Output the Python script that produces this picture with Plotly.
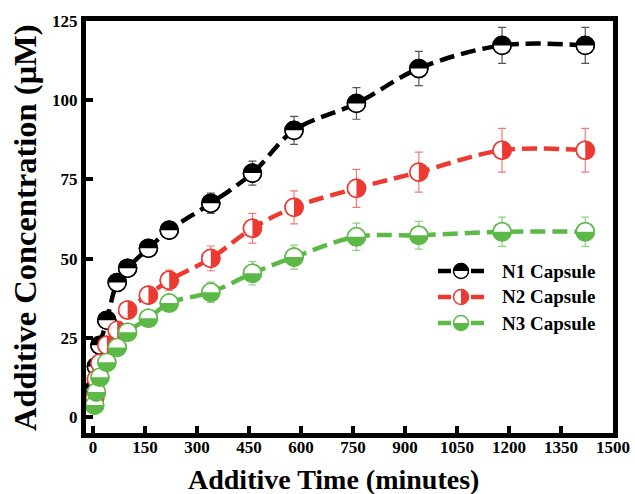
import plotly.graph_objects as go

# ---------------- data ----------------
time_min = [5, 10, 20, 40, 70, 100, 160, 220, 340, 460, 580, 760, 940, 1180, 1420]
n1_conc = [9, 16, 22.7, 30.6, 42.5, 47, 53.3, 59, 67.5, 77, 90.5, 99, 110, 117.3, 117.3]
n1_err = [1.5, 1.5, 1.5, 1.5, 1.5, 1.5, 1.8, 2.0, 3.2, 3.8, 4.4, 5.0, 5.4, 5.7, 5.7]
n2_conc = [6, 12, 17, 22.7, 27.4, 33.8, 38.5, 43.2, 50.1, 59.6, 66.2, 72.2, 77.3, 84.2, 84.2]
n2_err = [2, 2, 2, 2, 2, 2.2, 2.6, 3.2, 3.9, 4.7, 5.2, 6.0, 6.3, 6.9, 6.9]
n3_conc = [3.8, 7.9, 12.6, 17.3, 22, 26.8, 31.2, 36, 39.4, 45.4, 50.5, 56.9, 57.4, 58.5, 58.5]
n3_err = [1.5, 1.5, 1.5, 1.5, 1.5, 1.8, 2.0, 2.4, 3.2, 3.7, 3.8, 4.3, 4.4, 4.6, 4.6]
series_names = ["N1 Capsule", "N2 Capsule", "N3 Capsule"]
x_ticks = [0, 150, 300, 450, 600, 750, 900, 1050, 1200, 1350, 1500]
y_ticks = [0, 25, 50, 75, 100, 125]

# ---------------- style ----------------
W, H = 635, 494
ML, MR, MT, MB = 86, 22, 21, 61
FONT = "Liberation Serif"
colors = ["#000000", "#ec3a32", "#5cb947"]
err_colors = ["#555555", "#f07c78", "#8ccf7c"]
halves = ["top", "right", "bottom"]
R = 9
K = 0.5523


def half_path(r, side):
    k = K * r
    if side == "top":
        return (f"M{-r},0 C{-r},{k} {-k},{r} 0,{r} C{k},{r} {r},{k} {r},0 Z")
    if side == "bottom":
        return (f"M{-r},0 C{-r},{-k} {-k},{-r} 0,{-r} C{k},{-r} {r},{-k} {r},0 Z")
    return (f"M0,{r} C{k},{r} {r},{k} {r},0 C{r},{-k} {k},{-r} 0,{-r} Z")


fig = go.Figure()
shapes = []
series = [n1_conc, n2_conc, n3_conc]
errs = [n1_err, n2_err, n3_err]

for name, ys, es, col, ecol, side in zip(series_names, series, errs, colors, err_colors, halves):
    fig.add_trace(go.Scatter(
        x=time_min, y=ys, name=name, mode="lines+markers",
        line=dict(color=col, width=4.5, dash="15px,7px", shape="spline", smoothing=1),
        marker=dict(size=2 * R, color="white", line=dict(color=col, width=1.5)),
        error_y=dict(type="data", array=es, visible=True, color=ecol, thickness=1.2, width=4),
        showlegend=False, hoverinfo="skip",
    ))
    for xv, yv in zip(time_min, ys):
        shapes.append(dict(type="circle", xref="x", yref="y", xsizemode="pixel", ysizemode="pixel",
                           xanchor=xv, yanchor=yv, x0=-R, x1=R, y0=-R, y1=R,
                           fillcolor="white", line=dict(color=col, width=1.6), layer="above"))
        shapes.append(dict(type="path", xref="x", yref="y", xsizemode="pixel", ysizemode="pixel",
                           xanchor=xv, yanchor=yv, path=half_path(R, side),
                           fillcolor=col, line=dict(width=0), layer="above"))

# ---------------- custom legend ----------------
pw, ph = W - ML - MR, H - MT - MB


def px_to_paper(px, py):
    return (px - ML) / pw, (H - MB - py) / ph


legend_rows = [271, 297, 323]
annotations = []
for name, col, side, row in zip(series_names, colors, halves, legend_rows):
    for a, b in [(438, 451), (471, 484)]:
        xa, ya = px_to_paper(a, row)
        xb, _ = px_to_paper(b, row)
        shapes.append(dict(type="line", xref="paper", yref="paper", x0=xa, x1=xb, y0=ya, y1=ya,
                           line=dict(color=col, width=4.5), layer="above"))
    cx, cy = px_to_paper(461, row)
    r = 7.5
    shapes.append(dict(type="circle", xref="paper", yref="paper", xsizemode="pixel", ysizemode="pixel",
                       xanchor=cx, yanchor=cy, x0=-r, x1=r, y0=-r, y1=r,
                       fillcolor="white", line=dict(color=col, width=1.5), layer="above"))
    shapes.append(dict(type="path", xref="paper", yref="paper", xsizemode="pixel", ysizemode="pixel",
                       xanchor=cx, yanchor=cy, path=half_path(r, side),
                       fillcolor=col, line=dict(width=0), layer="above"))
    tx, ty = px_to_paper(500, row)
    annotations.append(dict(x=tx, y=ty, xref="paper", yref="paper", text=name, showarrow=False,
                            xanchor="left", yanchor="middle",
                            font=dict(family=FONT, size=19, color="black", weight="bold")))

# axis titles as annotations so their positions are fixed
xt_x, xt_y = px_to_paper(333, 479)
annotations.append(dict(x=xt_x, y=xt_y, xref="paper", yref="paper", text="Additive Time (minutes)",
                        showarrow=False, xanchor="center", yanchor="middle",
                        font=dict(family=FONT, size=28, color="black", weight="bold")))
yt_x, yt_y = px_to_paper(25, 228)
annotations.append(dict(x=yt_x, y=yt_y, xref="paper", yref="paper", text="Additive Concentration (μM)",
                        showarrow=False, xanchor="center", yanchor="middle", textangle=-90,
                        font=dict(family=FONT, size=32.5, color="black", weight="bold")))

axis_common = dict(showgrid=False, zeroline=False, showline=True, linewidth=5, linecolor="black",
                   mirror=True, ticks="inside", ticklen=7, tickwidth=4, tickcolor="black",
                   automargin=False,
                   tickfont=dict(family=FONT, size=17, color="black", weight="bold"))

fig.update_layout(
    width=W, height=H,
    margin=dict(l=ML, r=MR, t=MT, b=MB, autoexpand=False),
    paper_bgcolor="white", plot_bgcolor="white",
    shapes=shapes, annotations=annotations,
    xaxis=dict(range=[-20, 1500], tickvals=x_ticks, ticklabelstandoff=-5, **axis_common),
    yaxis=dict(range=[-5, 125], tickvals=y_ticks, **axis_common),
)

fig.write_html("out.html", config={"displayModeBar": False},
               post_script="document.body.style.margin='0px';")
